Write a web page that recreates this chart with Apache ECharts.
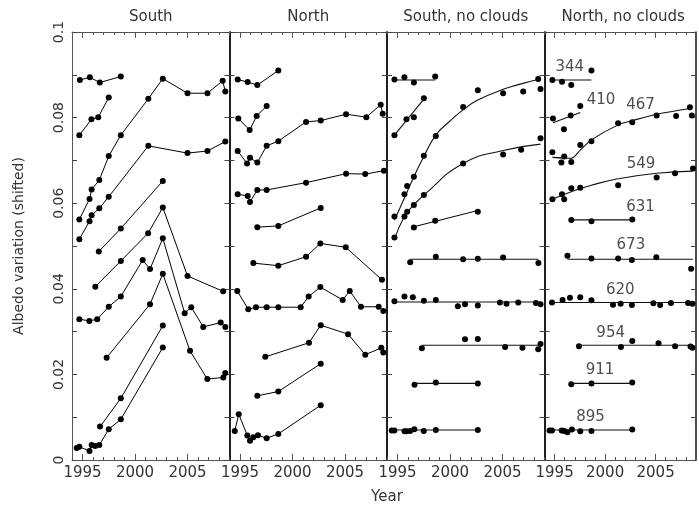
<!DOCTYPE html>
<html>
<head>
<meta charset="utf-8">
<title>Albedo variation</title>
<script src="https://cdn.jsdelivr.net/npm/echarts@6/dist/echarts.min.js"></script>
<style>
  html, body { margin: 0; padding: 0; background: #fff; }
  #chart { width: 699px; height: 509px; }
</style>
</head>
<body>
<div id="chart"></div>
<script>
// Panel titles
const panelTitles = ['South', 'North', 'South, no clouds', 'North, no clouds'];
const xTickLabels = [1995, 2000, 2005];

// South: observed albedo per band (year, shifted albedo)
const south = [
  [[1994.75,0.0888],[1995.70,0.0894],[1996.65,0.0882],[1998.65,0.0896]],
  [[1994.70,0.0759],[1995.85,0.0796],[1996.50,0.0801],[1997.50,0.0847]],
  [[1994.70,0.0562],[1995.67,0.0610],[1995.87,0.0632],[1996.60,0.0654],[1997.50,0.0710],[1998.65,0.0759],[2001.27,0.0844],[2002.65,0.0891],[2005.00,0.0857],[2006.90,0.0857],[2008.35,0.0886],[2008.60,0.0861]],
  [[1994.70,0.0516],[1995.67,0.0558],[1995.87,0.0572],[1996.60,0.0588],[1997.50,0.0615],[2001.27,0.0734],[2005.00,0.0717],[2006.90,0.0722],[2008.60,0.0744]],
  [[1996.55,0.0487],[1998.65,0.0541],[2002.65,0.0652]],
  [[1996.22,0.0405],[1998.65,0.0465],[2001.25,0.0530],[2002.65,0.0590],[2005.00,0.0430],[2008.40,0.0394]],
  [[1994.70,0.0329],[1995.65,0.0325],[1996.40,0.0329],[1997.50,0.0358],[1998.65,0.0382],[2000.73,0.0467],[2001.43,0.0446],[2002.65,0.0518],[2004.73,0.0343],[2005.36,0.0357],[2006.50,0.0311],[2008.16,0.0321],[2008.60,0.0311]],
  [[1997.30,0.0239],[2001.43,0.0364],[2002.65,0.0435],[2005.24,0.0255],[2006.89,0.0189],[2008.41,0.0193],[2008.60,0.0203]],
  [[1996.67,0.0078],[1998.65,0.0144],[2002.65,0.0314]],
  [[1994.45,0.0028],[1994.70,0.0031],[1995.67,0.0021],[1995.87,0.0035],[1996.20,0.0033],[1996.60,0.0035],[1997.50,0.0072],[1998.65,0.0095],[2002.65,0.0263]]
];

// North: observed albedo per band
const north = [
  [[1994.78,0.0889],[1995.73,0.0883],[1996.65,0.0876],[1998.65,0.0910]],
  [[1994.84,0.0798],[1995.92,0.0771],[1996.59,0.0804],[1997.54,0.0827]],
  [[1994.78,0.0722],[1995.67,0.0693],[1995.95,0.0706],[1996.65,0.0695],[1997.54,0.0734],[1998.65,0.0745],[2001.29,0.0790],[2002.69,0.0793],[2005.10,0.0808],[2007.03,0.0801],[2008.40,0.0830],[2008.59,0.0809]],
  [[1994.78,0.0621],[1995.73,0.0617],[1995.95,0.0603],[1996.65,0.0631],[1997.54,0.0631],[2001.29,0.0648],[2005.10,0.0669],[2006.93,0.0668],[2008.70,0.0676]],
  [[1996.65,0.0544],[1998.65,0.0547],[2002.69,0.0589]],
  [[1996.27,0.0460],[1998.65,0.0454],[2001.29,0.0475],[2002.65,0.0506],[2005.07,0.0497],[2008.52,0.0421]],
  [[1994.74,0.0395],[1995.79,0.0352],[1996.52,0.0357],[1997.54,0.0357],[1998.65,0.0357],[2000.78,0.0357],[2001.54,0.0382],[2002.65,0.0404],[2004.78,0.0374],[2005.45,0.0395],[2006.52,0.0358],[2008.21,0.0358],[2008.65,0.0348]],
  [[1997.41,0.0241],[2001.57,0.0274],[2002.69,0.0315],[2005.29,0.0294],[2006.93,0.0246],[2008.46,0.0262],[2008.65,0.0251]],
  [[1996.65,0.0150],[1998.65,0.0160],[2002.69,0.0225]],
  [[1994.50,0.0068],[1994.88,0.0107],[1995.70,0.0057],[1995.95,0.0045],[1996.27,0.0053],[1996.71,0.0058],[1997.54,0.0051],[1998.65,0.0061],[2002.69,0.0128]]
];

// South, no clouds: measurements
const southClear = [
  [[1994.71,0.0889],[1995.66,0.0894],[1996.56,0.0882],[1998.59,0.0896]],
  [[1994.71,0.0759],[1995.85,0.0796],[1996.56,0.0801],[1997.51,0.0845]],
  [[1994.71,0.0569],[1995.66,0.0621],[1995.92,0.0640],[1996.56,0.0662],[1997.51,0.0711],[1998.65,0.0757],[2001.25,0.0825],[2002.65,0.0864],[2005.06,0.0857],[2006.97,0.0861],[2008.40,0.0890],[2008.62,0.0867]],
  [[1994.71,0.0520],[1995.66,0.0569],[1995.92,0.0580],[1996.56,0.0596],[1997.51,0.0619],[2001.25,0.0693],[2005.06,0.0714],[2006.78,0.0725],[2008.62,0.0752]],
  [[1996.56,0.0543],[1998.59,0.0559],[2002.65,0.0580]],
  [[1996.21,0.0462],[1998.65,0.0475],[2001.25,0.0469],[2002.65,0.0470],[2005.06,0.0473],[2008.42,0.0460]],
  [[1994.71,0.0371],[1995.66,0.0382],[1996.46,0.0380],[1997.51,0.0372],[1998.65,0.0374],[2000.75,0.0359],[2001.43,0.0364],[2002.65,0.0361],[2004.75,0.0368],[2005.38,0.0365],[2006.50,0.0368],[2008.18,0.0367],[2008.62,0.0364]],
  [[1997.32,0.0261],[2001.43,0.0282],[2002.65,0.0283],[2005.25,0.0264],[2006.90,0.0262],[2008.40,0.0259],[2008.62,0.0271]],
  [[1996.62,0.0176],[1998.65,0.0181],[2002.65,0.0179]],
  [[1994.45,0.0069],[1994.70,0.0069],[1995.67,0.0067],[1995.87,0.0067],[1996.20,0.0068],[1996.60,0.0072],[1997.50,0.0068],[1998.65,0.0070],[2002.65,0.0070]]
];

// South, no clouds: fitted trends
const southClearFit = [
  { smooth: false, pts: [[1994.71,0.0888],[1998.59,0.0888]] },
  { smooth: false, pts: [[1994.71,0.0759],[1997.51,0.0843]] },
  { smooth: true,  pts: [[1994.71,0.0560],[1995.66,0.0612],[1996.56,0.0662],[1997.51,0.0709],[1998.65,0.0759],[2000.00,0.0792],[2001.25,0.0818],[2002.65,0.0841],[2005.06,0.0866],[2006.97,0.0880],[2008.62,0.0890]] },
  { smooth: true,  pts: [[1994.71,0.0516],[1995.66,0.0569],[1996.56,0.0596],[1997.51,0.0619],[2001.25,0.0693],[2005.06,0.0723],[2008.62,0.0738]] },
  { smooth: false, pts: [[1996.56,0.0545],[2002.65,0.0583]] },
  { smooth: false, pts: [[1996.21,0.0469],[2008.42,0.0469]] },
  { smooth: false, pts: [[1994.71,0.0369],[2008.62,0.0369]] },
  { smooth: false, pts: [[1997.32,0.0268],[2008.62,0.0268]] },
  { smooth: false, pts: [[1996.62,0.0179],[2002.65,0.0179]] },
  { smooth: false, pts: [[1994.45,0.0070],[2002.65,0.0070]] }
];

// North, no clouds: measurements
const northClear = [
  [[1994.78,0.0888],[1995.73,0.0884],[1996.65,0.0876],[1998.65,0.0910]],
  [[1994.84,0.0798],[1995.92,0.0773],[1996.59,0.0805],[1997.54,0.0827]],
  [[1994.78,0.0719],[1995.67,0.0695],[1995.95,0.0709],[1996.65,0.0696],[1997.54,0.0736],[1998.65,0.0745],[2001.29,0.0787],[2002.69,0.0789],[2005.10,0.0805],[2007.03,0.0804],[2008.40,0.0824],[2008.59,0.0805]],
  [[1994.78,0.0609],[1995.73,0.0621],[1995.95,0.0609],[1996.65,0.0635],[1997.54,0.0636],[2001.29,0.0642],[2005.10,0.0660],[2006.93,0.0670],[2008.70,0.0681]],
  [[1996.65,0.0561],[1998.65,0.0558],[2002.69,0.0562]],
  [[1996.27,0.0477],[1998.65,0.0471],[2001.29,0.0471],[2002.65,0.0467],[2005.07,0.0474],[2008.52,0.0447]],
  [[1994.74,0.0368],[1995.79,0.0374],[1996.52,0.0379],[1997.54,0.0380],[1998.65,0.0373],[2000.78,0.0363],[2001.54,0.0365],[2002.65,0.0362],[2004.78,0.0366],[2005.45,0.0362],[2006.52,0.0367],[2008.21,0.0367],[2008.65,0.0365]],
  [[1997.41,0.0266],[2001.57,0.0264],[2002.69,0.0278],[2005.29,0.0273],[2006.93,0.0266],[2008.46,0.0265],[2008.65,0.0262]],
  [[1996.65,0.0177],[1998.65,0.0179],[2002.69,0.0181]],
  [[1994.50,0.0069],[1994.74,0.0069],[1995.70,0.0069],[1995.95,0.0068],[1996.27,0.0065],[1996.71,0.0071],[1997.54,0.0067],[1998.65,0.0068],[2002.69,0.0071]]
];

// North, no clouds: fitted trends
const northClearFit = [
  { smooth: false, pts: [[1994.78,0.0888],[1998.65,0.0888]] },
  { smooth: false, pts: [[1994.84,0.0788],[1997.54,0.0812]] },
  { smooth: 0.3,   pts: [[1994.78,0.0707],[1996.65,0.0705],[1997.54,0.0724],[1998.65,0.0748],[2001.29,0.0783],[2002.69,0.0793],[2005.10,0.0808],[2008.59,0.0822]] },
  { smooth: true,  pts: [[1994.78,0.0609],[1996.65,0.0627],[1998.65,0.0642],[2001.29,0.0657],[2005.10,0.0670],[2008.70,0.0675]] },
  { smooth: false, pts: [[1996.65,0.0561],[2002.69,0.0561]] },
  { smooth: false, pts: [[1996.27,0.0469],[2008.70,0.0469]] },
  { smooth: false, pts: [[1994.74,0.0368],[2008.70,0.0368]] },
  { smooth: false, pts: [[1997.41,0.0268],[2008.70,0.0268]] },
  { smooth: false, pts: [[1996.65,0.0179],[2002.69,0.0179]] },
  { smooth: false, pts: [[1994.50,0.0070],[2002.69,0.0070]] }
];

// Wavelength tags (nm) placed next to each trend in the last panel
const bandTags = [
  ['344', 1996.5, 0.0919], ['410', 1999.6, 0.0840], ['467', 2003.5, 0.0829],
  ['549', 2003.55, 0.0692], ['631', 2003.5, 0.0590], ['673', 2002.55, 0.0501],
  ['620', 2001.5, 0.0397], ['954', 2000.55, 0.0297], ['911', 1999.5, 0.0209],
  ['895', 1998.55, 0.0100]
];

const FONT = 'DejaVu Sans';
const GRID_LEFT = 72, GRID_W = 157.5, GRID_TOP = 32, GRID_H = 428;

const grids = [], xAxes = [], yAxes = [], series = [];

function xAxis(gi, pos, major) {
  return {
    type: 'value', gridIndex: gi, position: pos, min: 1994, max: 2009, interval: 1,
    axisLine: { show: !major, lineStyle: { color: '#555', width: 1 } },
    axisTick: major
      ? { show: true, inside: true, length: 6, customValues: xTickLabels, lineStyle: { color: '#555' } }
      : { show: true, inside: true, length: 3, lineStyle: { color: '#555' } },
    axisLabel: (pos === 'bottom' && !major)
      ? { show: true, margin: 6, color: '#333', fontFamily: FONT, fontSize: 15,
          formatter: v => (Math.round(v) % 5 === 0 ? String(Math.round(v)) : '') }
      : { show: false },
    splitLine: { show: false }
  };
}

for (let i = 0; i < 4; i++) {
  grids.push({ left: GRID_LEFT + i * GRID_W, top: GRID_TOP, width: GRID_W, height: GRID_H });
  const xi = xAxes.length;
  xAxes.push(xAxis(i, 'bottom', false), xAxis(i, 'bottom', true), xAxis(i, 'top', false), xAxis(i, 'top', true));
  const yi = yAxes.length;
  for (const side of ['left', 'right']) {
    const outer = i === 0 && side === 'left';
    const y = {
      type: 'value', gridIndex: i, position: side, min: 0, max: 0.1, interval: 0.01,
      axisLine: { show: true, lineStyle: { color: outer ? '#555' : '#111', width: outer ? 1 : 1.5 } },
      axisTick: { show: true, inside: true, length: 5, lineStyle: { color: '#444' } },
      axisLabel: { show: false },
      splitLine: { show: false }
    };
    if (outer) {
      y.axisLabel = {
        show: true, rotate: 90, margin: 6, color: '#333', fontFamily: FONT, fontSize: 14,
        formatter: v => {
          const k = Math.round(v * 100);
          if (k % 2) return '';
          if (k === 0) return '0';
          if (k === 10) return '0.1';
          return (k / 100).toFixed(2);
        }
      };
      y.name = 'Albedo variation (shifted)';
      y.nameLocation = 'middle';
      y.nameGap = 46;
      y.nameRotate = 90;
      y.nameTextStyle = { color: '#333', fontFamily: FONT, fontSize: 14 };
    }
    yAxes.push(y);
  }

  const dot = { color: '#000', opacity: 1 };
  if (i < 2) {
    const set = i === 0 ? south : north;
    set.forEach(pts => series.push({
      type: 'line', xAxisIndex: xi, yAxisIndex: yi, data: pts,
      symbol: 'circle', symbolSize: 6, itemStyle: dot,
      lineStyle: { color: '#000', width: 1 }, animation: false, silent: true
    }));
  } else {
    const pts = i === 2 ? southClear : northClear;
    const fits = i === 2 ? southClearFit : northClearFit;
    fits.forEach(f => series.push({
      type: 'line', xAxisIndex: xi, yAxisIndex: yi, data: f.pts, smooth: f.smooth,
      showSymbol: false, lineStyle: { color: '#111', width: 1.1 }, animation: false, silent: true
    }));
    pts.forEach(p => series.push({
      type: 'scatter', xAxisIndex: xi, yAxisIndex: yi, data: p,
      symbol: 'circle', symbolSize: 6, itemStyle: dot, animation: false, silent: true
    }));
  }
  if (i === 3) {
    series.push({
      type: 'scatter', xAxisIndex: xi, yAxisIndex: yi, symbolSize: 0, animation: false, silent: true,
      data: bandTags.map(t => ({ name: t[0], value: [t[1], t[2]] })),
      label: { show: true, position: 'inside', formatter: '{b}', color: '#222', fontFamily: FONT, fontSize: 15 }
    });
  }
}

// Panel titles centred above each grid, plus the shared x-axis name
const graphics = panelTitles.map((t, i) => ({
  type: 'text', x: GRID_LEFT + i * GRID_W + GRID_W / 2, y: 17,
  style: { text: t, fill: '#333', font: '15px "DejaVu Sans"', align: 'center', verticalAlign: 'middle' }
}));
graphics.push({
  type: 'text', x: GRID_LEFT + 2 * GRID_W, y: 497,
  style: { text: 'Year', fill: '#333', font: '15px "DejaVu Sans"', align: 'center', verticalAlign: 'middle' }
});

const chart = echarts.init(document.getElementById('chart'), null, { renderer: 'canvas' });
chart.setOption({
  backgroundColor: '#fff',
  animation: false,
  grid: grids,
  xAxis: xAxes,
  yAxis: yAxes,
  series: series,
  graphic: graphics
});
</script>
</body>
</html>
